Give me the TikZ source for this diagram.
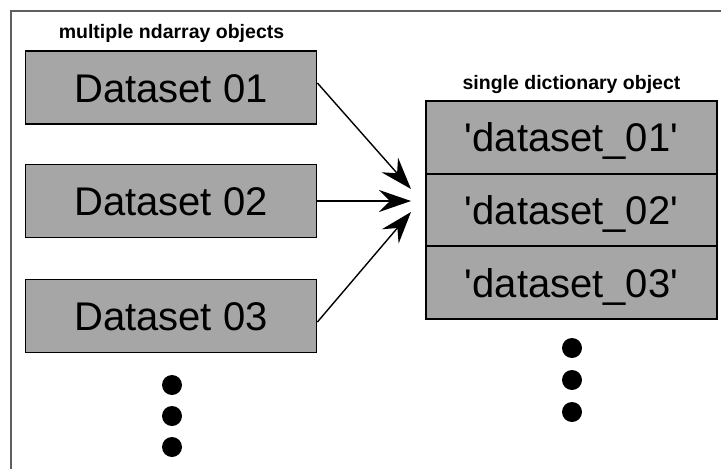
\documentclass[tikz,border=0pt]{standalone}
\usepackage{fontspec}
\setmainfont{Liberation Sans}
\usetikzlibrary{arrows.meta}
\definecolor{boxgray}{RGB}{166,166,166}
\definecolor{framegray}{RGB}{95,95,95}
\newcommand{\sq}{\textquotesingle}
\tikzset{
  dsbox/.style={draw=black, line width=1.8pt, fill=boxgray, minimum width=291pt, minimum height=73pt, inner sep=0pt, font=\fontsize{40}{40}\selectfont, text height=29pt, text depth=0pt},
  cellbox/.style={dsbox, minimum height=72.7pt},
  title/.style={anchor=base, inner sep=0pt, font=\bfseries\fontsize{19.5}{19.5}\selectfont},
  bigdot/.style={circle, fill=black, inner sep=0pt, minimum size=20pt},
  conn/.style={line width=1.4pt, -{Stealth[length=32pt, width=22pt, inset=11pt]}},
  frameline/.style={draw=framegray, line width=1.6pt}
}
\begin{document}
\begin{tikzpicture}[x=1pt, y=-1pt]
\useasboundingbox (0,0) rectangle (721,469);
\coordinate (fa) at (721,11);
\coordinate (fb) at (11,11);
\coordinate (fc) at (11,469);
\draw[frameline] (fa) -- (fb) -- (fc);

\node[title] (tl) at (171.5,38) {multiple ndarray objects};
\node[title] (tr) at (571.5,89) {single dictionary object};

\node[dsbox] (b1) at (171,87.5) {Dataset 01};
\node[dsbox] (b2) at (171,201) {Dataset 02};
\node[dsbox] (b3) at (171,316) {Dataset 03};

\node[cellbox] (c1) at (571.5,137.3) {\sq dataset\_01\sq};
\node[cellbox] (c2) at (571.5,210) {\sq dataset\_02\sq};
\node[cellbox] (c3) at (571.5,282.7) {\sq dataset\_03\sq};

\node[bigdot] (l1) at (172,385) {};
\node[bigdot] (l2) at (172,416) {};
\node[bigdot] (l3) at (172,447) {};
\node[bigdot] (r1) at (572,348) {};
\node[bigdot] (r2) at (572,380) {};
\node[bigdot] (r3) at (572,412) {};

\coordinate (t1) at (411,189);
\coordinate (t2) at (411,201);
\coordinate (t3) at (411,212);
\draw[conn] ([yshift=4.5pt]b1.east) -- (t1);
\draw[conn] (b2.east) -- (t2);
\draw[conn] ([yshift=-6pt]b3.east) -- (t3);
\end{tikzpicture}
\end{document}
